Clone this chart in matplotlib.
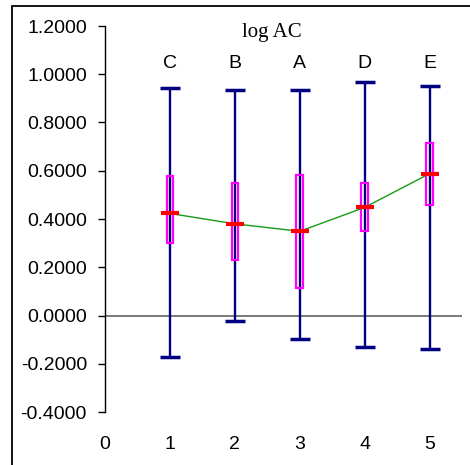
import matplotlib
matplotlib.use("Agg")
import matplotlib.pyplot as plt
from matplotlib.patches import Rectangle
from matplotlib.ticker import FormatStrFormatter

plt.rcParams["font.family"] = ["Liberation Sans", "DejaVu Sans"]
plt.rcParams["axes.unicode_minus"] = False

groups = ["C", "B", "A", "D", "E"]
xpos = [1, 2, 3, 4, 5]
whisk_hi = [0.942, 0.935, 0.935, 0.968, 0.950]
whisk_lo = [-0.173, -0.024, -0.097, -0.130, -0.138]
box_hi = [0.577, 0.550, 0.582, 0.551, 0.714]
box_lo = [0.302, 0.228, 0.112, 0.351, 0.458]
medians = [0.423, 0.380, 0.349, 0.448, 0.588]
yticks = [-0.4, -0.2, 0.0, 0.2, 0.4, 0.6, 0.8, 1.0, 1.2]
xticks = [0, 1, 2, 3, 4, 5]

NAVY = "#000080"
MAGENTA = "#FF00FF"
RED = "#FF0000"
GREEN = "#169B16"
FS = 14

fig = plt.figure(figsize=(4.70, 4.65), dpi=100)
ax = fig.add_axes([105 / 470, 1 - 412 / 465, (462 - 105) / 470, (412 - 26) / 465])

# outer frame (only left and top edges are inside the image)
fig.patches.append(Rectangle((12 / 470, -0.1), 1.2, 1 - 6 / 465 + 0.1,
                             transform=fig.transFigure, fill=False,
                             edgecolor="black", linewidth=1.3))

ax.axhline(0, color="#555555", lw=1.1, zorder=1)

for x, lo, hi in zip(xpos, whisk_lo, whisk_hi):
    ax.vlines(x, lo, hi, color=NAVY, lw=1.7, zorder=2)
ax.plot(xpos, whisk_hi, ls="none", marker="_", ms=14, mew=2.5, color=NAVY, zorder=3)
ax.plot(xpos, whisk_lo, ls="none", marker="_", ms=14, mew=2.5, color=NAVY, zorder=3)

bw = 0.1
for x, q1, q3 in zip(xpos, box_lo, box_hi):
    ax.add_patch(Rectangle((x - bw / 2, q1), bw, q3 - q1, fill=False,
                           edgecolor=MAGENTA, lw=1.6, zorder=4))

ax.plot(xpos, medians, color=GREEN, lw=1.0, zorder=5)
ax.plot(xpos, medians, ls="none", marker="_", ms=13, mew=3, color=RED, zorder=6)

for x, g in zip(xpos, groups):
    ax.text(x, 1.025, g, ha="center", va="baseline", fontsize=FS)
ax.text(2.57, 1.155, "log AC", ha="center", va="baseline", fontsize=15,
        family=["Liberation Serif", "DejaVu Serif"])

ax.set_xlim(0, 5.5)
ax.set_ylim(-0.4, 1.2)
ax.set_yticks(yticks)
ax.yaxis.set_major_formatter(FormatStrFormatter("%.4f"))
ax.set_xticks(xticks)
ax.tick_params(axis="y", direction="out", length=5, width=1, labelsize=FS, pad=8)
ax.tick_params(axis="x", length=0, labelsize=FS, pad=17)

for side in ["top", "right", "bottom"]:
    ax.spines[side].set_visible(False)
ax.spines["left"].set_linewidth(1)

fig.savefig("out.png", dpi=100)
